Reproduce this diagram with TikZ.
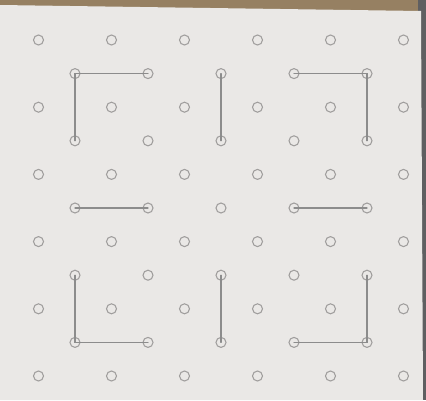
\documentclass[tikz,border=0pt]{standalone}
\definecolor{wood}{RGB}{150,128,98}
\definecolor{edge}{RGB}{95,95,97}
\definecolor{paper}{RGB}{234,232,230}
\definecolor{dotgray}{RGB}{160,158,157}
\definecolor{pencilgray}{RGB}{140,140,140}

\begin{document}
\begin{tikzpicture}[x=0.2mm,y=-0.2mm,dot/.style={draw=dotgray,circle,inner sep=0pt,minimum size=2mm,line width=0.6pt},pencil/.style={draw=pencilgray,line width=0.6pt,line cap=round}]
\useasboundingbox (0,0) rectangle (426,400);
% photo background
\fill[wood] (0,0) rectangle (426,400);
\fill[edge] (418,0) rectangle (426,400);
\fill[paper] (0,5) -- (421,11) -- (423,400) -- (0,400) -- cycle;
% dot grid
\foreach \r in {0,2,...,10}{\foreach \c in {0,2,...,10}{\node[dot] (p-\r-\c) at ({38.5+36.5*\c},{40+33.6*\r}) {};}}
\foreach \r in {1,3,...,9}{\foreach \c in {1,3,...,9}{\node[dot] (p-\r-\c) at ({38.5+36.5*\c},{40+33.6*\r}) {};}}
% pencil strokes
\draw[pencil] (p-1-3.center) -- (p-1-1.center) -- (p-3-1.center);
\draw[pencil] (p-1-5.center) -- (p-3-5.center);
\draw[pencil] (p-1-7.center) -- (p-1-9.center) -- (p-3-9.center);
\draw[pencil] (p-5-1.center) -- (p-5-3.center);
\draw[pencil] (p-5-7.center) -- (p-5-9.center);
\draw[pencil] (p-7-1.center) -- (p-9-1.center) -- (p-9-3.center);
\draw[pencil] (p-7-5.center) -- (p-9-5.center);
\draw[pencil] (p-9-7.center) -- (p-9-9.center) -- (p-7-9.center);
\end{tikzpicture}
\end{document}
